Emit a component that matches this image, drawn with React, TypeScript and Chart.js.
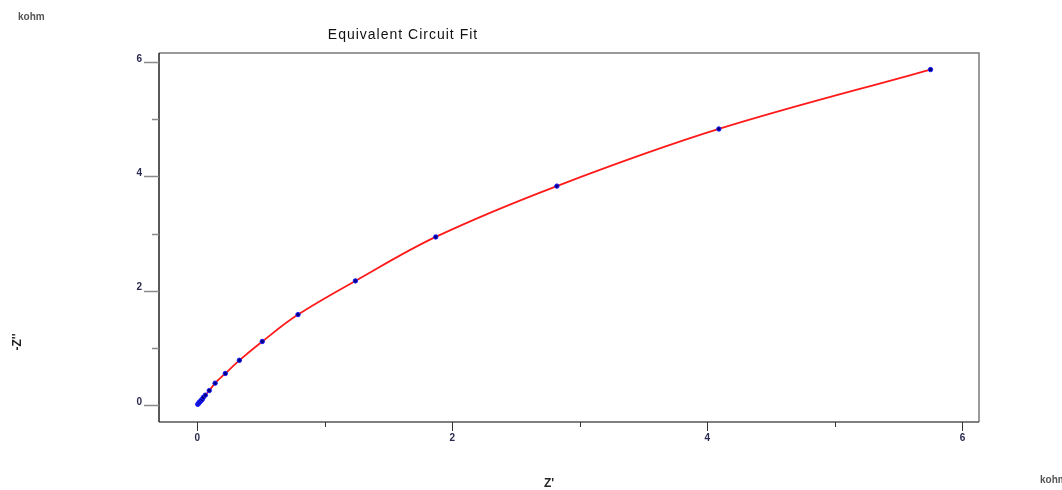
import React, { useEffect, useRef } from "react";
import { Chart, registerables } from "chart.js";

Chart.register(...registerables);

const zReal = [0.004, 0.008, 0.012, 0.016, 0.024, 0.031, 0.039, 0.047, 0.063, 0.094, 0.14, 0.22, 0.33, 0.51, 0.79, 1.24, 1.87, 2.82, 4.09, 5.75];
const zImag = [0.01, 0.02, 0.03, 0.045, 0.06, 0.08, 0.096, 0.13, 0.17, 0.25, 0.38, 0.55, 0.78, 1.11, 1.58, 2.17, 2.94, 3.83, 4.83, 5.87];
const fitReal = [0.0, 0.004, 0.012, 0.024, 0.039, 0.063, 0.094, 0.14, 0.22, 0.33, 0.51, 0.79, 1.24, 1.87, 2.82, 4.09, 5.75];
const fitImag = [0.0, 0.01, 0.03, 0.06, 0.096, 0.17, 0.25, 0.38, 0.55, 0.78, 1.11, 1.58, 2.17, 2.94, 3.83, 4.83, 5.87];
const axisTicks = [0, 1, 2, 3, 4, 5, 6];
const majorTicks = [0, 2, 4, 6];

const FONT = "'Liberation Sans', Arial, sans-serif";

const decorPlugin = {
  id: "decor",
  beforeDatasetsDraw(chart: any) {
    const { ctx, chartArea: a } = chart;
    ctx.save();
    ctx.lineWidth = 1.5;
    ctx.strokeStyle = "#7a7a7a";
    ctx.beginPath();
    ctx.moveTo(a.left, a.top);
    ctx.lineTo(a.right, a.top);
    ctx.lineTo(a.right, a.bottom);
    ctx.stroke();
    ctx.strokeStyle = "#555";
    ctx.beginPath();
    ctx.moveTo(a.left, a.bottom);
    ctx.lineTo(a.right, a.bottom);
    ctx.stroke();
    ctx.strokeStyle = "#222";
    ctx.beginPath();
    ctx.moveTo(a.left, a.top);
    ctx.lineTo(a.left, a.bottom);
    ctx.stroke();
    const ys = chart.scales.y;
    ctx.strokeStyle = "#8a8a8a";
    ctx.lineWidth = 1.5;
    axisTicks.forEach((v) => {
      const p = Math.round(ys.getPixelForValue(v)) + 0.5;
      const len = majorTicks.includes(v) ? 15 : 7;
      ctx.beginPath();
      ctx.moveTo(a.left - len, p);
      ctx.lineTo(a.left, p);
      ctx.stroke();
    });
    const xs = chart.scales.x;
    ctx.strokeStyle = "#333";
    ctx.lineWidth = 1;
    axisTicks.forEach((v) => {
      const p = Math.round(xs.getPixelForValue(v)) + 0.5;
      const len = majorTicks.includes(v) ? 9 : 5;
      ctx.beginPath();
      ctx.moveTo(p, a.bottom);
      ctx.lineTo(p, a.bottom + len);
      ctx.stroke();
    });
    ctx.restore();
  },
  afterDraw(chart: any) {
    const { ctx } = chart;
    ctx.save();
    ctx.fillStyle = "#111";
    ctx.font = `14px ${FONT}`;
    (ctx as any).letterSpacing = "1px";
    ctx.textAlign = "center";
    ctx.textBaseline = "middle";
    ctx.fillText("Equivalent Circuit Fit", 403, 35);
    (ctx as any).letterSpacing = "0px";

    ctx.fillStyle = "#555";
    ctx.font = `bold 10px ${FONT}`;
    ctx.textAlign = "left";
    ctx.fillText("kohm", 18, 17);
    ctx.fillText("kohm", 1040, 480);

    ctx.fillStyle = "#222";
    ctx.font = `bold 12px ${FONT}`;
    ctx.textAlign = "center";
    ctx.fillText("Z'", 549, 484);

    ctx.translate(18, 342);
    ctx.rotate(-Math.PI / 2);
    ctx.fillText("-Z''", 0, 0);
    ctx.restore();
  },
};

export default function App() {
  const ref = useRef<HTMLCanvasElement | null>(null);
  useEffect(() => {
    if (!ref.current) return;
    const markers = zReal.map((x, i) => ({ x, y: zImag[i] }));
    const fit = fitReal.map((x, i) => ({ x, y: fitImag[i] }));
    const chart = new Chart(ref.current, {
      type: "scatter",
      data: {
        datasets: [
          {
            label: "Data",
            data: markers,
            backgroundColor: "#000080",
            borderColor: "#1a1aff",
            borderWidth: 1,
            pointRadius: 2.2,
            showLine: false,
          },
          {
            label: "Fit",
            data: fit,
            showLine: true,
            borderColor: "#ff1a1a",
            borderWidth: 1.8,
            pointRadius: 0,
            tension: 0.35,
            fill: false,
          },
        ],
      },
      options: {
        animation: false,
        responsive: false,
        maintainAspectRatio: false,
        layout: { padding: { top: 53, right: 83, left: 0, bottom: 0 } },
        plugins: {
          legend: { display: false },
          title: { display: false },
          tooltip: { enabled: false },
        },
        scales: {
          x: {
            type: "linear",
            min: -0.3,
            max: 6.13,
            grid: { display: false, drawTicks: false },
            border: { display: false },
            afterBuildTicks: (s: any) => {
              s.ticks = axisTicks.map((v) => ({ value: v }));
            },
            afterFit: (s: any) => {
              s.height = 68;
            },
            ticks: {
              autoSkip: false,
              maxRotation: 0,
              padding: 10,
              color: "#2a2a50",
              font: { family: FONT, size: 10, weight: "bold" },
              callback: (v: any) => (majorTicks.includes(Number(v)) ? String(v) : ""),
            },
          },
          y: {
            type: "linear",
            min: -0.3,
            max: 6.16,
            grid: { display: false, drawTicks: false },
            border: { display: false },
            afterBuildTicks: (s: any) => {
              s.ticks = axisTicks.map((v) => ({ value: v }));
            },
            afterFit: (s: any) => {
              s.width = 159;
            },
            ticks: {
              autoSkip: false,
              padding: 17,
              labelOffset: -3,
              color: "#2a2a50",
              font: { family: FONT, size: 10, weight: "bold" },
              callback: (v: any) => (majorTicks.includes(Number(v)) ? String(v) : ""),
            },
          },
        },
      },
      plugins: [decorPlugin],
    });
    return () => chart.destroy();
  }, []);
  return (
    <div style={{ position: "fixed", left: 0, top: 0, width: 1062, height: 490, background: "#fff" }}>
      <canvas ref={ref} width={1062} height={490} />
    </div>
  );
}
